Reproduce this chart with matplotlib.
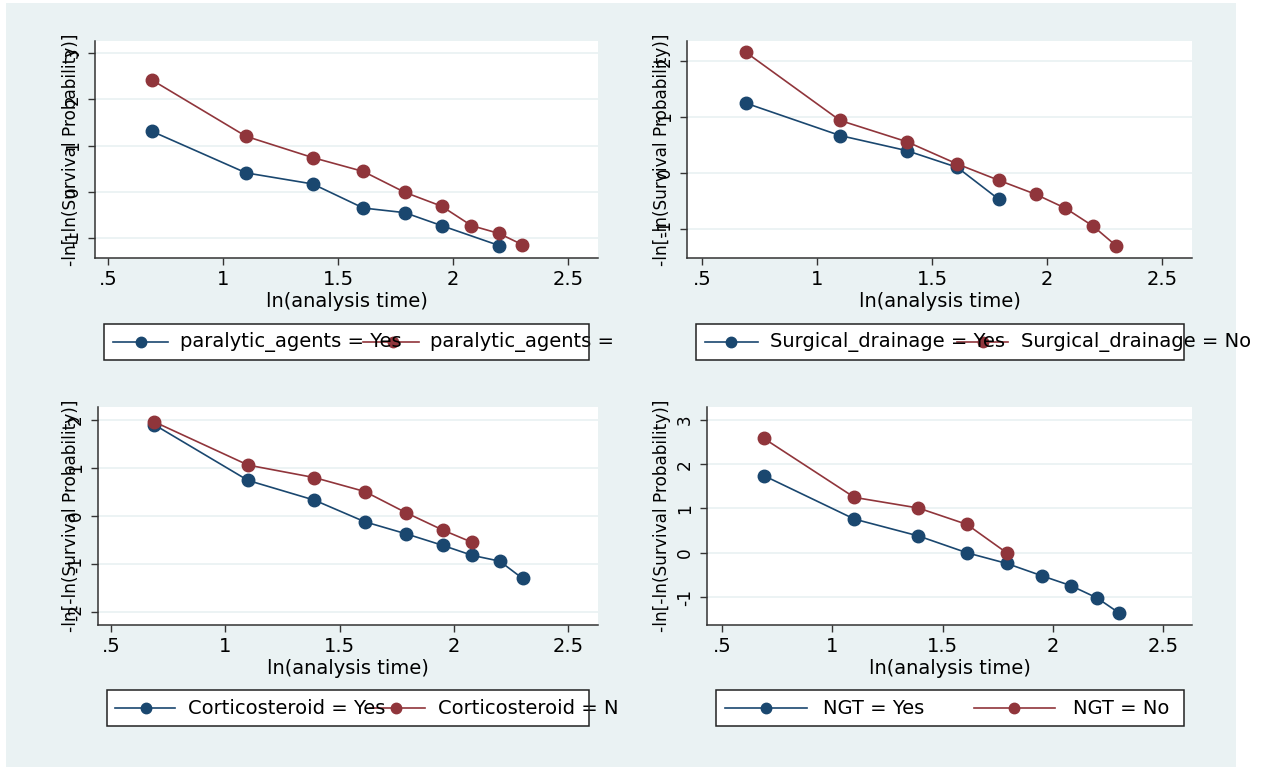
import matplotlib
matplotlib.use("Agg")
import matplotlib.pyplot as plt
from matplotlib.patches import Rectangle
from matplotlib.lines import Line2D

# ln(analysis time) values
ln_t = [0.69, 1.10, 1.39, 1.61, 1.79, 1.95, 2.08, 2.20, 2.30]

# panel 1: paralytic agents
para_yes_x = [0.69, 1.10, 1.39, 1.61, 1.79, 1.95, 2.20]
para_yes_y = [1.31, 0.41, 0.17, -0.35, -0.45, -0.73, -1.16]
para_no_x = ln_t
para_no_y = [2.42, 1.20, 0.74, 0.44, -0.01, -0.31, -0.73, -0.90, -1.14]

# panel 2: surgical drainage
surg_yes_x = ln_t[:5]
surg_yes_y = [1.25, 0.67, 0.40, 0.10, -0.47]
surg_no_x = ln_t
surg_no_y = [2.16, 0.94, 0.56, 0.16, -0.13, -0.38, -0.63, -0.95, -1.30]

# panel 3: corticosteroid
cort_yes_x = ln_t
cort_yes_y = [1.90, 0.74, 0.33, -0.12, -0.37, -0.61, -0.82, -0.94, -1.30]
cort_no_x = ln_t[:7]
cort_no_y = [1.96, 1.06, 0.80, 0.51, 0.07, -0.29, -0.55]

# panel 4: NGT
ngt_yes_x = ln_t
ngt_yes_y = [1.74, 0.76, 0.38, 0.00, -0.24, -0.52, -0.74, -1.02, -1.36]
ngt_no_x = ln_t[:5]
ngt_no_y = [2.58, 1.25, 1.01, 0.64, 0.00]

x_ticks = [0.5, 1, 1.5, 2, 2.5]
x_ticklabels = [".5", "1", "1.5", "2", "2.5"]

BG = "#EAF2F3"
NAVY = "#1A476F"
MAROON = "#90353B"
W, H = 1271, 769

plt.rcParams["font.family"] = ["DejaVu Sans"]

fig = plt.figure(figsize=(W / 100, H / 100), dpi=100, facecolor="white")
fig.add_artist(Rectangle((6 / W, 1 - 767 / H), 1230 / W, 764 / H,
                         transform=fig.transFigure, facecolor=BG,
                         edgecolor="none", zorder=0))


def px_axes(left, top, right, bottom):
    return fig.add_axes([left / W, 1 - bottom / H, (right - left) / W, (bottom - top) / H])


def panel(ax, yes_x, yes_y, no_x, no_y, yticks, xlim, ylim, ylab_px):
    ax.set_facecolor("white")
    ax.plot(yes_x, yes_y, "-o", color=NAVY, lw=1.2, ms=9, zorder=3)
    ax.plot(no_x, no_y, "-o", color=MAROON, lw=1.2, ms=9, zorder=4)
    ax.set_xlim(*xlim)
    ax.set_ylim(*ylim)
    ax.set_xticks(x_ticks)
    ax.set_xticklabels(x_ticklabels, fontsize=14)
    ax.set_yticks(yticks)
    ax.set_yticklabels([str(v) for v in yticks], fontsize=12.2, rotation=90, va="center")
    ax.yaxis.grid(True, color=BG, lw=1.3)
    ax.set_axisbelow(True)
    for s in ["top", "right"]:
        ax.spines[s].set_visible(False)
    for s in ["left", "bottom"]:
        ax.spines[s].set_color("#333333")
        ax.spines[s].set_linewidth(1.1)
    ax.tick_params(axis="both", length=5, width=1, color="#333333")
    ax.tick_params(axis="x", pad=3.5)
    ax.tick_params(axis="y", pad=4.5)
    ax.set_xlabel("ln(analysis time)", fontsize=14)
    ax.xaxis.set_label_coords(0.5, -43 / (ax.bbox.height))
    ax.xaxis.label.set_va("center")
    ax.set_ylabel("-ln[-ln(Survival Probability)]", fontsize=12.2)
    ax.yaxis.set_label_coords(-ylab_px / ax.bbox.width, 0.5)
    ax.yaxis.label.set_va("center")


def legend(box, yc, items):
    l, t, r, b = box
    for x0, x1, xm, color, lab, xt in items:
        y = 1 - yc / H
        fig.add_artist(Line2D([x0 / W, x1 / W], [y, y], color=color, lw=1.2,
                              transform=fig.transFigure, zorder=5))
        fig.add_artist(Line2D([xm / W], [y], marker="o", ms=7.5, color=color,
                              transform=fig.transFigure, zorder=5))
        fig.text(xt / W, y, lab, fontsize=14, va="center", ha="left", zorder=6)
    fig.add_artist(Rectangle((l / W, 1 - b / H), (r - l) / W, (b - t) / H,
                             transform=fig.transFigure, facecolor="none",
                             edgecolor="#222222", lw=1.1, zorder=7))
    fig.add_artist(Rectangle((l / W, 1 - b / H), (r - l) / W, (b - t) / H,
                             transform=fig.transFigure, facecolor="white",
                             edgecolor="none", zorder=1))


ax1 = px_axes(95, 41, 598, 258)
panel(ax1, para_yes_x, para_yes_y, para_no_x, para_no_y, [-1, 0, 1, 2, 3],
      (0.4435, 2.63), (-1.43, 3.26), 24)
ax2 = px_axes(687, 41, 1192, 258)
panel(ax2, surg_yes_x, surg_yes_y, surg_no_x, surg_no_y, [-1, 0, 1, 2],
      (0.435, 2.63), (-1.52, 2.36), 25)
ax3 = px_axes(98, 407, 598, 625)
panel(ax3, cort_yes_x, cort_yes_y, cort_no_x, cort_no_y, [-2, -1, 0, 1, 2],
      (0.4435, 2.63), (-2.27, 2.27), 27)
ax4 = px_axes(707, 407, 1192, 625)
panel(ax4, ngt_yes_x, ngt_yes_y, ngt_no_x, ngt_no_y, [-1, 0, 1, 2, 3],
      (0.432, 2.63), (-1.63, 3.29), 45)

legend((104, 324, 589, 360), 342, [
    (113, 168, 141, NAVY, "paralytic_agents = Yes", 180),
    (363, 419, 393, MAROON, "paralytic_agents =", 430)])
legend((696, 324, 1184, 360), 342, [
    (705, 758, 731, NAVY, "Surgical_drainage = Yes", 770),
    (957, 1008, 983, MAROON, "Surgical_drainage = No", 1021)])
legend((107, 690, 589, 726), 708, [
    (115, 175, 146, NAVY, "Corticosteroid = Yes", 188),
    (370, 425, 396, MAROON, "Corticosteroid = N", 438)])
legend((716, 690, 1184, 726), 708, [
    (725, 807, 766, NAVY, "NGT = Yes", 823),
    (974, 1055, 1014, MAROON, "NGT = No", 1073)])

fig.savefig("out.png", dpi=100, facecolor="white")
